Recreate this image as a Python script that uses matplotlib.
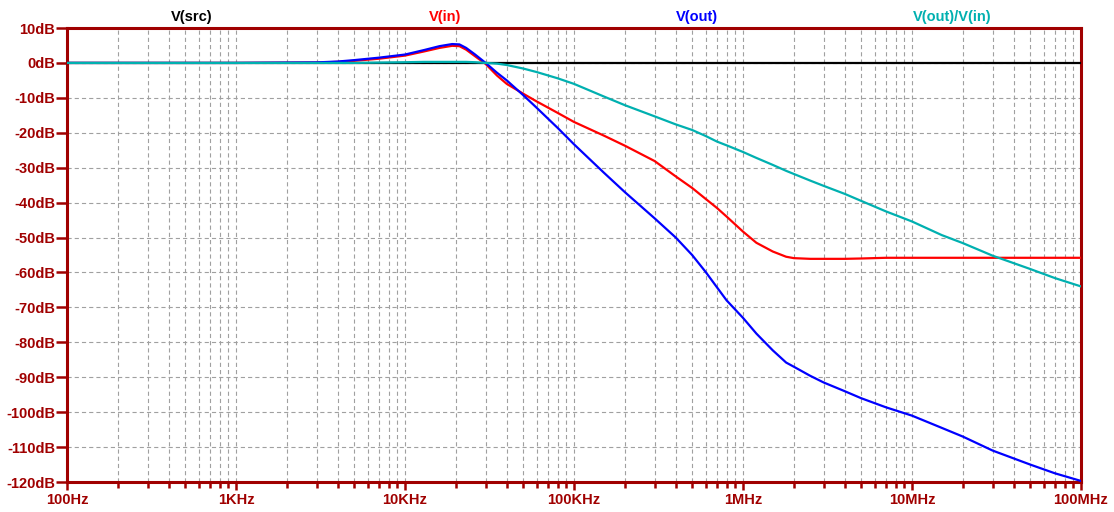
import matplotlib
matplotlib.use("Agg")
import matplotlib.pyplot as plt
from matplotlib.ticker import FixedLocator, NullFormatter, LogLocator

# ---------------- data ----------------
freq_hz = [100, 1e3, 3e3, 4e3, 5e3, 7e3, 10e3, 13e3, 16e3, 19e3, 21e3, 23e3, 26e3, 30e3,
           35e3, 40e3, 50e3, 60e3, 80e3, 100e3,
           150e3, 200e3, 300e3, 400e3, 500e3, 600e3, 700e3, 800e3,
           1e6, 1.2e6, 1.5e6, 1.8e6, 2e6, 2.5e6, 3e6, 4e6, 5e6, 7e6,
           10e6, 15e6, 20e6, 30e6, 50e6, 70e6, 100e6]

v_src_db = [0.0] * len(freq_hz)

v_in_db = [0.0, 0.0, 0.1, 0.3, 0.6, 1.2, 2.1, 3.3, 4.3, 4.9, 4.8, 3.8, 1.9, -0.3,
           -3.6, -6.0, -8.8, -11.0, -14.3, -16.9,
           -20.8, -23.7, -28.1, -32.5, -35.8, -38.9, -41.5, -44.0,
           -48.3, -51.5, -54.0, -55.5, -55.9, -56.1, -56.1, -56.1, -56.0, -55.8,
           -55.8, -55.8, -55.8, -55.8, -55.8, -55.8, -55.8]

v_out_db = [0.0, 0.0, 0.15, 0.4, 0.8, 1.5, 2.4, 3.7, 4.8, 5.4, 5.3, 4.3, 2.4, 0.0,
            -2.8, -5.0, -9.2, -12.8, -18.6, -23.3,
            -31.4, -37.0, -44.5, -50.0, -55.0, -59.8, -64.2, -68.0,
            -73.0, -77.5, -82.3, -85.8, -87.0, -89.6, -91.5, -94.0, -96.0, -98.6,
            -101.0, -104.5, -107.0, -111.0, -115.0, -117.5, -119.7]

v_ratio_db = [0.0, 0.0, 0.0, 0.0, 0.0, 0.1, 0.2, 0.3, 0.3, 0.3, 0.3, 0.3, 0.2, 0.0,
              -0.2, -0.6, -1.6, -2.6, -4.4, -6.0,
              -9.6, -12.1, -15.3, -17.6, -19.2, -20.9, -22.5, -23.6,
              -25.5, -27.2, -29.2, -30.9, -31.8, -33.7, -35.2, -37.5, -39.5, -42.5,
              -45.4, -49.3, -51.6, -55.2, -59.0, -61.6, -64.0]

series_names = ["V(src)", "V(in)", "V(out)", "V(out)/V(in)"]

y_ticks = list(range(10, -121, -10))
y_tick_labels = [f"{v}dB" for v in y_ticks]
x_ticks = [1e2, 1e3, 1e4, 1e5, 1e6, 1e7, 1e8]
x_tick_labels = ["100Hz", "1KHz", "10KHz", "100KHz", "1MHz", "10MHz", "100MHz"]

# ---------------- styling ----------------
W, H, DPI = 1114, 512, 100
FRAME = "#a00000"
GRID = "#a0a0a0"
colors = ["#000000", "#ff0000", "#0000ff", "#00b0b0"]
title_x_px = [192, 445, 697, 952]

plt.rcParams["font.family"] = ["Liberation Sans", "DejaVu Sans"]
plt.rcParams["lines.scale_dashes"] = False

fig = plt.figure(figsize=(W / DPI, H / DPI), dpi=DPI)
left, right, top, bottom = 67, 1081, 28, 482
ax = fig.add_axes([left / W, 1 - bottom / H, (right - left) / W, (bottom - top) / H])

series = [v_src_db, v_in_db, v_out_db, v_ratio_db]
for vals, c in zip(series, colors):
    ax.plot(freq_hz, vals, color=c, lw=1.6, solid_joinstyle="round", zorder=3, clip_on=True)

ax.set_xscale("log")
ax.set_xlim(1e2, 1e8)
ax.set_ylim(-120, 10)

ax.xaxis.set_major_locator(FixedLocator(x_ticks))
ax.set_xticklabels(x_tick_labels)
ax.xaxis.set_minor_locator(LogLocator(base=10, subs=range(2, 10), numticks=100))
ax.xaxis.set_minor_formatter(NullFormatter())
ax.set_yticks(y_ticks)
ax.set_yticklabels(y_tick_labels)

for sp in ax.spines.values():
    sp.set_color(FRAME)
    sp.set_linewidth(2.2)

ax.tick_params(axis="x", which="major", direction="out", length=6, width=1.8,
               color=FRAME, labelcolor=FRAME, labelsize=10.5, pad=2)
ax.tick_params(axis="x", which="minor", direction="out", length=4, width=1.8,
               color=FRAME)
ax.tick_params(axis="y", which="major", direction="out", length=8, width=1.8,
               color=FRAME, labelcolor=FRAME, labelsize=10.5, pad=0.5)
for lab in ax.get_xticklabels() + ax.get_yticklabels():
    lab.set_fontweight("bold")

ax.grid(True, which="both", axis="x", color=GRID, lw=0.8, linestyle=(0, (3, 2.2)), zorder=1)
ax.grid(True, which="major", axis="y", color=GRID, lw=0.8, linestyle=(0, (3, 2.2)), zorder=1)
ax.set_axisbelow(True)

for name, c, xp in zip(series_names, colors, title_x_px):
    fig.text(xp / W, 1 - 17 / H, name, color=c, fontsize=10.5, fontweight="bold",
             ha="center", va="center")

fig.savefig("out.png", dpi=DPI, facecolor="white")
